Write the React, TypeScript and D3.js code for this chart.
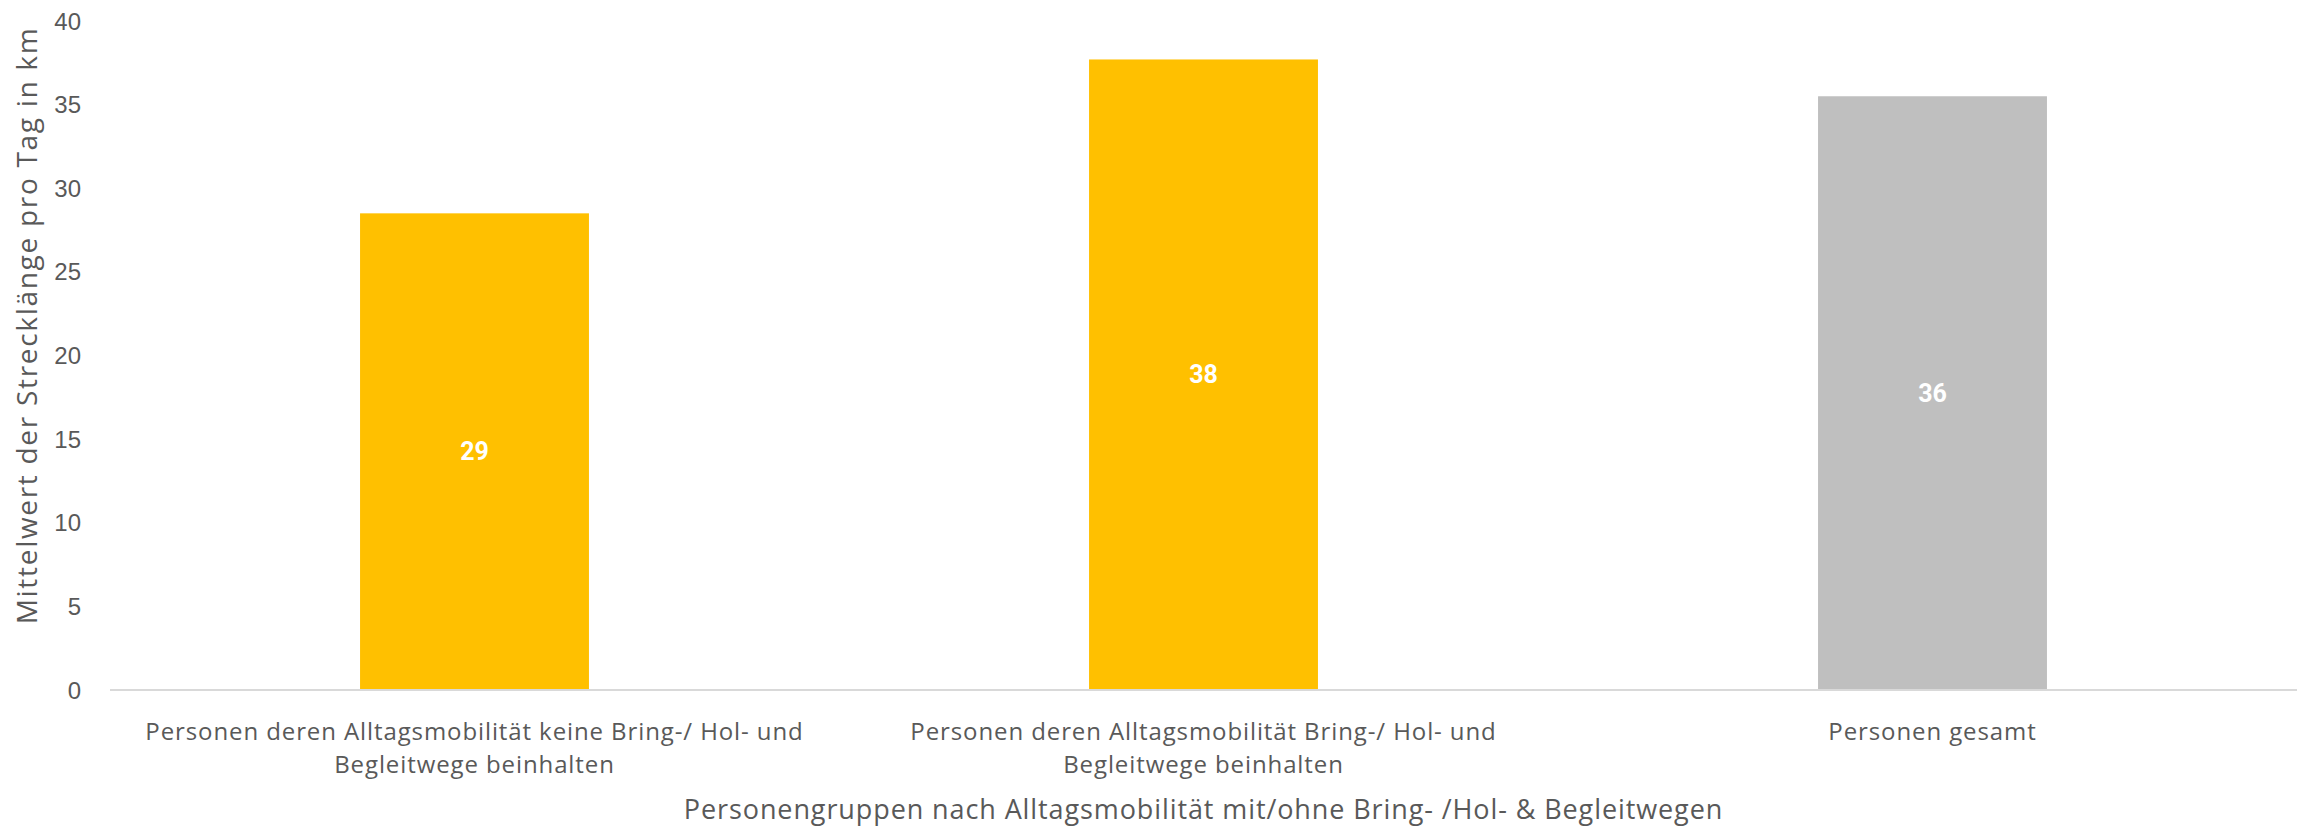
import React from "react";
import * as d3 from "d3";

const categories: string[][] = [
  ["Personen deren Alltagsmobilität keine Bring-/ Hol- und", "Begleitwege beinhalten"],
  ["Personen deren Alltagsmobilität Bring-/ Hol- und", "Begleitwege beinhalten"],
  ["Personen gesamt"],
];
const values: number[] = [28.5, 37.7, 35.5];
const colors: string[] = ["#FFC000", "#FFC000", "#BFBFBF"];
const yTicks: number[] = [0, 5, 10, 15, 20, 25, 30, 35, 40];
const yTitle = "Mittelwert der Strecklänge pro Tag in km";
const xTitle = "Personengruppen nach Alltagsmobilität mit/ohne Bring- /Hol- & Begleitwegen";

const W = 2307;
const H = 826;
const M = { left: 110, right: 10, top: 21, bottom: 136 };

export default function App() {
  const x = d3
    .scaleBand<number>()
    .domain(values.map((_, i) => i))
    .range([M.left, W - M.right])
    .paddingInner(0.686)
    .paddingOuter(0.343);
  const y = d3.scaleLinear().domain([0, 40]).range([H - M.bottom, M.top]);
  const textColor = "#595959";
  const labelFont = "'Open Sans', sans-serif";
  return (
    <svg
      width={W}
      height={H}
      style={{ position: "absolute", left: 0, top: 0, background: "#fff" }}
    >
      {yTicks.map((t) => (
        <text
          key={t}
          x={81}
          y={y(t)}
          textAnchor="end"
          dominantBaseline="central"
          fontFamily="'Liberation Sans', Arial, sans-serif"
          fontSize={24}
          fill={textColor}
        >
          {t}
        </text>
      ))}
      {values.map((v, i) => (
        <g key={i}>
          <rect
            x={x(i)}
            y={y(v)}
            width={x.bandwidth()}
            height={y(0) - y(v)}
            fill={colors[i]}
          />
          <text
            x={(x(i) as number) + x.bandwidth() / 2}
            y={(y(v) + y(0)) / 2}
            textAnchor="middle"
            dominantBaseline="central"
            fontFamily="Roboto, 'Liberation Sans', sans-serif"
            fontWeight="bold"
            fontSize={25}
            fill="#ffffff"
          >
            {Math.round(v)}
          </text>
        </g>
      ))}
      <line
        x1={M.left}
        x2={W - M.right}
        y1={y(0)}
        y2={y(0)}
        stroke="#d9d9d9"
        strokeWidth={2}
      />
      {categories.map((lines, i) => (
        <text
          key={i}
          textAnchor="middle"
          fontFamily={labelFont}
          fontSize={24}
          letterSpacing={0.9}
          fill={textColor}
        >
          {lines.map((l, j) => (
            <tspan
              key={j}
              x={(x(i) as number) + x.bandwidth() / 2}
              y={730 + j * 33}
              dominantBaseline="central"
            >
              {l}
            </tspan>
          ))}
        </text>
      ))}
      <text
        x={(M.left + W - M.right) / 2}
        y={808}
        textAnchor="middle"
        dominantBaseline="central"
        fontFamily={labelFont}
        fontSize={27}
        letterSpacing={0.9}
        fill={textColor}
      >
        {xTitle}
      </text>
      <text
        transform={`translate(26, ${(y(0) + y(40)) / 2 - 30}) rotate(-90)`}
        textAnchor="middle"
        dominantBaseline="central"
        fontFamily={labelFont}
        fontSize={28}
        letterSpacing={1.7}
        fill={textColor}
      >
        {yTitle}
      </text>
    </svg>
  );
}
